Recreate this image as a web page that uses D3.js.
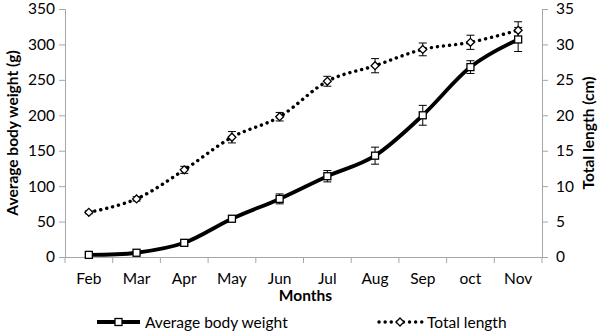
<!DOCTYPE html>
<html>
<head>
<meta charset="utf-8">
<script src="https://cdn.jsdelivr.net/npm/d3@7"></script>
<style>
  body { margin: 0; background: #fff; }
  svg text { font-family: Lato, "Open Sans", sans-serif; fill: #000; }
</style>
</head>
<body>
<svg width="600" height="332"></svg>
<script>
var months = ["Feb", "Mar", "Apr", "May", "Jun", "Jul", "Aug", "Sep", "oct", "Nov"]
var weight = [3, 6, 20, 54, 82, 114, 143, 200, 268, 307]
var weightErr = [2, 2, 3, 4, 7, 8, 12, 14, 9, 17]
var lengthCm = [6.3, 8.2, 12.3, 16.9, 19.8, 24.8, 27.0, 29.3, 30.3, 32.0]
var lengthErr = [0.2, 0.3, 0.5, 0.8, 0.6, 0.7, 1.0, 0.9, 1.0, 1.2]
var leftTicks = [0, 50, 100, 150, 200, 250, 300, 350]
var rightTicks = [0, 5, 10, 15, 20, 25, 30, 35]

var svg = d3.select("svg")
var pLeft = 65, pRight = 542, pTop = 9, pBottom = 257
var fs = 15.5

var x = d3.scaleBand().domain(months).range([pLeft, pRight])
var yL = d3.scaleLinear().domain([0, 350]).range([pBottom, pTop])
var yR = d3.scaleLinear().domain([0, 35]).range([pBottom, pTop])
var axisCol = "#a6a6a6"

// axes
var gl = svg.append("g").attr("transform", "translate(" + pLeft + ",0)")
  .call(d3.axisLeft(yL).tickValues(leftTicks).tickSize(6).tickPadding(4))
var gr = svg.append("g").attr("transform", "translate(" + pRight + ",0)")
  .call(d3.axisRight(yR).tickValues(rightTicks).tickSize(6).tickPadding(8))
var gx = svg.append("g").attr("transform", "translate(0," + pBottom + ")")
  .call(d3.axisBottom(x).tickSize(0).tickPadding(16))

// category boundary ticks
svg.append("g").selectAll("line")
  .data(months.concat(["end"])).enter().append("line")
  .attr("x1", function (d, i) { return pLeft + i * x.step() })
  .attr("x2", function (d, i) { return pLeft + i * x.step() })
  .attr("y1", pBottom).attr("y2", pBottom + 6)
  .attr("stroke", axisCol)

;[gl, gr, gx].forEach(function (g) {
  g.selectAll(".domain").attr("stroke", axisCol)
  g.selectAll(".tick line").attr("stroke", axisCol)
  g.selectAll("text").attr("font-size", fs).attr("font-family", "Lato, sans-serif")
})

// titles
svg.append("text").attr("transform", "translate(14," + (pTop + pBottom) / 2 + ") rotate(-90)")
  .attr("text-anchor", "middle").attr("dominant-baseline", "middle")
  .attr("font-size", fs).attr("font-weight", "bold").text("Average body weight (g)")
svg.append("text").attr("transform", "translate(590," + (pTop + pBottom) / 2 + ") rotate(-90)")
  .attr("text-anchor", "middle").attr("dominant-baseline", "middle")
  .attr("font-size", fs).attr("font-weight", "bold").text("Total length (cm)")
svg.append("text").attr("x", (pLeft + pRight) / 2 + 2).attr("y", 301)
  .attr("text-anchor", "middle").attr("font-size", fs).attr("font-weight", "bold").text("Months")

var cx = function (i) { return x(months[i]) + x.bandwidth() / 2 }

// length series (dotted)
var lineR = d3.line().x(function (d, i) { return cx(i) }).y(function (d) { return yR(d) })
  .curve(d3.curveCatmullRom.alpha(0))
svg.append("path").attr("d", lineR(lengthCm)).attr("fill", "none")
  .attr("stroke", "#000").attr("stroke-width", 3.4)
  .attr("stroke-dasharray", "0.1,6").attr("stroke-linecap", "round")

// weight series (solid)
var lineL = d3.line().x(function (d, i) { return cx(i) }).y(function (d) { return yL(d) })
  .curve(d3.curveCatmullRom.alpha(0))
svg.append("path").attr("d", lineL(weight)).attr("fill", "none")
  .attr("stroke", "#000").attr("stroke-width", 3.8)

function errBars(vals, errs, y) {
  var g = svg.append("g").attr("stroke", "#000").attr("stroke-width", 1)
  vals.forEach(function (v, i) {
    var xx = cx(i), lo = y(v - errs[i]), hi = y(v + errs[i])
    g.append("line").attr("x1", xx).attr("x2", xx).attr("y1", lo).attr("y2", hi)
    g.append("line").attr("x1", xx - 4).attr("x2", xx + 4).attr("y1", lo).attr("y2", lo)
    g.append("line").attr("x1", xx - 4).attr("x2", xx + 4).attr("y1", hi).attr("y2", hi)
  })
}
errBars(lengthCm, lengthErr, yR)
errBars(weight, weightErr, yL)

// markers
svg.append("g").selectAll("path").data(lengthCm).enter().append("path")
  .attr("d", d3.symbol(d3.symbolDiamond2, 40))
  .attr("transform", function (d, i) { return "translate(" + cx(i) + "," + yR(d) + ")" })
  .attr("fill", "#fff").attr("stroke", "#000").attr("stroke-width", 1.3)
svg.append("g").selectAll("rect").data(weight).enter().append("rect")
  .attr("x", function (d, i) { return cx(i) - 3.5 }).attr("y", function (d) { return yL(d) - 3.5 })
  .attr("width", 7).attr("height", 7)
  .attr("fill", "#fff").attr("stroke", "#000").attr("stroke-width", 1.3)

// legend
var lg = svg.append("g")
lg.append("line").attr("x1", 97).attr("x2", 140).attr("y1", 322).attr("y2", 322)
  .attr("stroke", "#000").attr("stroke-width", 3.8)
lg.append("rect").attr("x", 115).attr("y", 318.5).attr("width", 7).attr("height", 7)
  .attr("fill", "#fff").attr("stroke", "#000").attr("stroke-width", 1.3)
lg.append("text").attr("x", 145).attr("y", 327.5).attr("font-size", fs).text("Average body weight")
lg.append("line").attr("x1", 379).attr("x2", 422).attr("y1", 322).attr("y2", 322)
  .attr("stroke", "#000").attr("stroke-width", 3.4)
  .attr("stroke-dasharray", "0.1,6").attr("stroke-linecap", "round")
lg.append("path").attr("d", d3.symbol(d3.symbolDiamond2, 40))
  .attr("transform", "translate(400,322)")
  .attr("fill", "#fff").attr("stroke", "#000").attr("stroke-width", 1.3)
lg.append("text").attr("x", 427).attr("y", 327.5).attr("font-size", fs).text("Total length")
</script>
</body>
</html>
